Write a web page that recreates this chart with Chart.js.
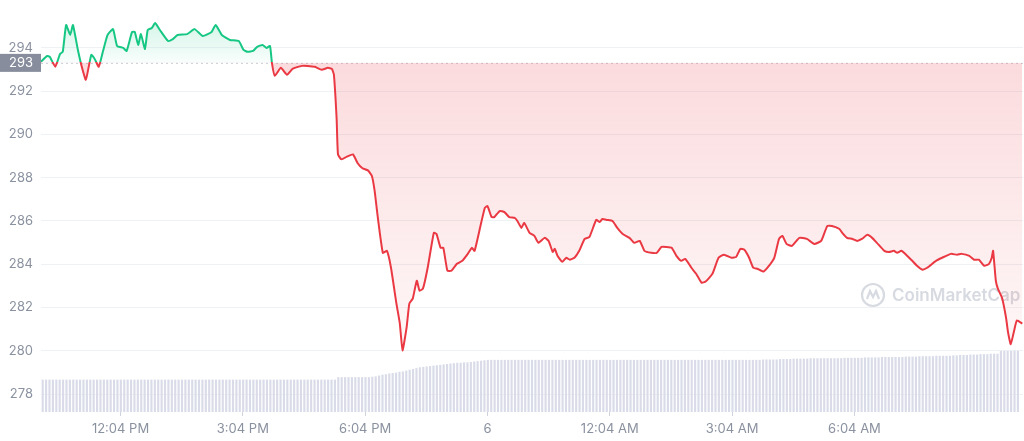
<!DOCTYPE html>
<html>
<head>
<meta charset="utf-8">
<script src="https://cdn.jsdelivr.net/npm/chart.js@4.4.1/dist/chart.umd.min.js"></script>
<style>
  html, body { margin: 0; background: #fff; }
  #wrap { width: 1024px; height: 441px; }
</style>
</head>
<body>
<div id="wrap"><canvas id="graficoPreco"></canvas></div>
<script>
// Preço (minutos desde o início da janela de 24h)
const times = [
  0, 9, 13, 21, 28, 32, 37, 43, 47, 54,
  60, 66, 74, 79, 85, 91, 98, 106, 112, 121,
  126, 134, 138, 143, 147, 153, 157, 163, 168, 175,
  187, 194, 201, 215, 226, 238, 251, 257, 266, 278,
  291, 298, 304, 312, 318, 326, 332, 337, 340, 344,
  353, 362, 370, 384, 392, 403, 413, 422, 428, 431,
  435, 437, 442, 451, 459, 466, 473, 481, 487, 491,
  495, 503, 509, 515, 523, 528, 532, 538, 542, 547,
  553, 557, 562, 569, 578, 582, 588, 592, 598, 604,
  612, 620, 628, 634, 638, 645, 653, 657, 663, 667,
  675, 682, 689, 697, 701, 707, 711, 719, 726, 732,
  741, 747, 753, 756, 760, 767, 773, 778, 785, 792,
  800, 807, 817, 822, 826, 833, 841, 848, 856, 866,
  873, 881, 888, 898, 906, 913, 920, 928, 935, 942,
  948, 957, 964, 972, 978, 988, 997, 1005, 1016, 1023,
  1029, 1035, 1042, 1048, 1054, 1063, 1069, 1079, 1086, 1091,
  1097, 1105, 1116, 1127, 1138, 1148, 1157, 1164, 1175, 1179,
  1186, 1194, 1201, 1208, 1216, 1223, 1230, 1241, 1248, 1255,
  1260, 1266, 1273, 1282, 1289, 1297, 1304, 1317, 1326, 1339,
  1348, 1355, 1366, 1373, 1380, 1388, 1395, 1399, 1401, 1405,
  1408, 1414, 1420, 1423, 1427, 1432, 1436, 1444
];
const prices = [
  293.36, 293.63, 293.59, 293.13, 293.72, 293.82, 295.06, 294.60, 295.06, 293.95,
  293.13, 292.53, 293.68, 293.49, 293.13, 293.82, 294.60, 294.87, 294.09, 294.00,
  293.86, 294.74, 294.74, 294.14, 294.64, 293.95, 294.83, 294.92, 295.15, 294.83,
  294.32, 294.41, 294.60, 294.64, 294.87, 294.55, 294.74, 295.06, 294.60, 294.37,
  294.32, 293.91, 293.82, 293.86, 294.05, 294.14, 294.00, 294.09, 293.26, 292.71,
  293.08, 292.76, 293.03, 293.17, 293.17, 293.13, 292.99, 293.08, 293.03, 292.76,
  290.74, 289.08, 288.85, 288.99, 289.08, 288.67, 288.44, 288.34, 288.07, 287.38,
  286.32, 284.53, 284.62, 283.84, 282.18, 281.26, 280.02, 281.08, 282.18, 282.41,
  283.24, 282.78, 282.87, 283.84, 285.45, 285.40, 284.76, 284.76, 283.70, 283.70,
  284.02, 284.16, 284.48, 284.76, 284.62, 285.54, 286.60, 286.69, 286.18, 286.18,
  286.46, 286.41, 286.18, 286.14, 286.00, 285.68, 285.91, 285.45, 285.31, 284.99,
  285.22, 285.08, 284.57, 284.71, 284.39, 284.11, 284.30, 284.21, 284.30, 284.62,
  285.17, 285.26, 286.05, 285.95, 286.09, 286.05, 286.00, 285.68, 285.40, 285.22,
  284.99, 285.08, 284.62, 284.53, 284.53, 284.80, 284.80, 284.76, 284.39, 284.16,
  284.25, 283.84, 283.56, 283.15, 283.20, 283.56, 284.30, 284.44, 284.30, 284.34,
  284.71, 284.67, 284.30, 283.84, 283.79, 283.66, 283.84, 284.30, 285.17, 285.31,
  284.94, 284.85, 285.22, 285.17, 284.94, 285.08, 285.77, 285.77, 285.63, 285.45,
  285.22, 285.17, 285.08, 285.17, 285.36, 285.22, 284.99, 284.62, 284.57, 284.62,
  284.53, 284.62, 284.44, 284.16, 283.93, 283.75, 283.84, 284.16, 284.30, 284.48,
  284.44, 284.48, 284.39, 284.21, 284.21, 283.93, 284.02, 284.30, 284.62, 283.24,
  282.87, 282.46, 281.54, 280.85, 280.30, 280.94, 281.40, 281.26
];
const baseline = 293.31;

// Volume (barras de 5 min)
const volumes = [
  7.8, 7.8, 7.8, 7.8, 7.8, 7.8, 7.8, 7.8, 7.8, 7.8, 7.8, 7.8,
  7.8, 7.8, 7.8, 7.8, 7.8, 7.8, 7.8, 7.8, 7.8, 7.8, 7.8, 7.8,
  7.8, 7.8, 7.8, 7.8, 7.8, 7.8, 7.8, 7.8, 7.8, 7.8, 7.8, 7.8,
  7.8, 7.8, 7.8, 7.8, 7.8, 7.8, 7.8, 7.8, 7.8, 7.8, 7.8, 7.8,
  7.8, 7.8, 7.8, 7.8, 7.8, 7.8, 7.8, 7.8, 7.8, 7.8, 7.8, 7.8,
  7.8, 7.8, 7.8, 7.8, 7.8, 7.8, 7.8, 7.8, 7.8, 7.8, 7.8, 7.8,
  7.8, 7.8, 7.8, 7.8, 7.8, 7.8, 7.8, 7.8, 7.8, 7.8, 7.8, 7.8,
  7.8, 7.8, 7.8, 8.4, 8.4, 8.4, 8.4, 8.4, 8.4, 8.4, 8.4, 8.4,
  8.4, 8.5, 8.6, 8.8, 9.0, 9.1, 9.3, 9.4, 9.5, 9.7, 9.8, 10.0,
  10.2, 10.4, 10.6, 10.8, 10.9, 11.0, 11.1, 11.2, 11.3, 11.4, 11.5, 11.6,
  11.7, 11.8, 11.9, 11.9, 12.0, 12.0, 12.1, 12.2, 12.3, 12.4, 12.5, 12.6,
  12.6, 12.6, 12.6, 12.6, 12.6, 12.6, 12.6, 12.6, 12.6, 12.6, 12.6, 12.6,
  12.6, 12.6, 12.6, 12.6, 12.6, 12.6, 12.6, 12.6, 12.6, 12.6, 12.6, 12.6,
  12.6, 12.6, 12.6, 12.6, 12.6, 12.6, 12.6, 12.6, 12.6, 12.6, 12.6, 12.6,
  12.6, 12.6, 12.6, 12.6, 12.6, 12.6, 12.6, 12.6, 12.6, 12.6, 12.6, 12.6,
  12.6, 12.6, 12.6, 12.6, 12.6, 12.6, 12.6, 12.6, 12.6, 12.6, 12.6, 12.6,
  12.6, 12.6, 12.6, 12.6, 12.6, 12.6, 12.6, 12.6, 12.6, 12.6, 12.6, 12.6,
  12.6, 12.6, 12.6, 12.6, 12.6, 12.6, 12.6, 12.6, 12.7, 12.7, 12.7, 12.7,
  12.7, 12.8, 12.8, 12.8, 12.8, 12.9, 12.9, 12.9, 12.9, 12.9, 13.0, 13.0,
  13.0, 13.0, 13.0, 13.0, 13.0, 13.0, 13.0, 13.0, 13.1, 13.1, 13.1, 13.1,
  13.1, 13.1, 13.2, 13.2, 13.2, 13.2, 13.2, 13.3, 13.3, 13.3, 13.3, 13.3,
  13.3, 13.3, 13.4, 13.4, 13.4, 13.4, 13.5, 13.5, 13.5, 13.5, 13.5, 13.6,
  13.6, 13.6, 13.6, 13.6, 13.7, 13.7, 13.8, 13.8, 13.8, 13.9, 13.9, 13.9,
  14.0, 14.0, 14.0, 14.1, 14.1, 14.1, 14.8, 14.8, 14.8, 14.8, 14.8, 14.8
];

// Eixos
const yTicks = [278, 280, 282, 284, 286, 288, 290, 292, 294];
const xTickMinutes = [117, 297, 477, 657, 837, 1017, 1197];
const xTickLabels = ['12:04 PM', '3:04 PM', '6:04 PM', '6', '12:04 AM', '3:04 AM', '6:04 AM'];

const VERDE = '#16c784';
const VERMELHO = '#ea3943';
const CINZA = '#8a919f';
Chart.defaults.font.family = 'Inter, "Noto Sans", sans-serif';

const precoPts = times.map((t, i) => ({ x: t, y: prices[i] }));
const volumePts = volumes.map((v, i) => ({ x: i * 5 + 2.5, y: v }));

// sem margens extras em volta da área do gráfico
const semPadding = s => { s.paddingTop = 0; s.paddingBottom = 0; s.paddingLeft = 0; s.paddingRight = 0; };

// linha tracejada da abertura + etiqueta "293" + marca d'água
const extras = {
  id: 'extras',
  beforeDatasetsDraw(chart) {
    const { ctx, chartArea, scales } = chart;
    const yb = scales.y.getPixelForValue(baseline);
    ctx.save();
    ctx.strokeStyle = '#c9cdd6';
    ctx.lineWidth = 1;
    ctx.setLineDash([2, 3]);
    ctx.beginPath();
    ctx.moveTo(chartArea.left, yb + 0.5);
    ctx.lineTo(chartArea.right, yb + 0.5);
    ctx.stroke();
    ctx.setLineDash([]);

    // marca d'água
    const wx = chartArea.right - 150, wy = 295;
    ctx.strokeStyle = '#d7dae1';
    ctx.lineWidth = 2.2;
    ctx.beginPath();
    ctx.arc(wx, wy, 11, 0, Math.PI * 2);
    ctx.stroke();
    ctx.beginPath();
    ctx.moveTo(wx - 6, wy + 4);
    ctx.lineTo(wx - 3, wy - 4);
    ctx.lineTo(wx, wy + 2);
    ctx.lineTo(wx + 3, wy - 4);
    ctx.lineTo(wx + 6, wy + 4);
    ctx.stroke();
    ctx.fillStyle = '#d7dae1';
    ctx.font = '600 17px Inter';
    ctx.textBaseline = 'middle';
    ctx.fillText('CoinMarketCap', wx + 19, wy + 1);
    ctx.restore();
  },
  afterDraw(chart) {
    const { ctx, scales } = chart;
    const yb = scales.y.getPixelForValue(baseline);
    ctx.save();
    ctx.fillStyle = '#878d9c';
    ctx.fillRect(0, yb - 9, 41, 18);
    ctx.fillStyle = '#ffffff';
    ctx.font = '13px Inter';
    ctx.textAlign = 'right';
    ctx.textBaseline = 'middle';
    ctx.fillText(String(Math.floor(baseline)), 33, yb);
    ctx.restore();
  }
};

const ctxPreco = document.getElementById('graficoPreco').getContext('2d');
const grafico = new Chart(ctxPreco, {
  data: {
    datasets: [
      {
        type: 'line',
        data: precoPts,
        yAxisID: 'y',
        borderColor: VERDE,
        borderWidth: 2,
        pointRadius: 0,
        tension: 0.15,
        fill: false,
        order: 0
      },
      {
        type: 'bar',
        data: volumePts,
        yAxisID: 'yv',
        backgroundColor: '#d9dce8',
        barThickness: 1.5,
        order: 1
      }
    ]
  },
  options: {
    responsive: true,
    maintainAspectRatio: false,
    animation: false,
    layout: { padding: 0 },
    plugins: { legend: { display: false }, tooltip: { enabled: false } },
    scales: {
      x: {
        type: 'linear',
        min: 0,
        max: 1445,
        offset: false,
        border: { display: false },
        grid: { offset: false, drawOnChartArea: false, drawTicks: true, tickLength: 4, color: '#cfd3da' },
        afterBuildTicks: s => { s.ticks = xTickMinutes.map(v => ({ value: v })); },
        afterFit: s => { s.height = 441 - 412; semPadding(s); },
        ticks: {
          autoSkip: false,
          maxRotation: 0,
          padding: 5,
          color: CINZA,
          font: { size: 13 },
          callback: v => xTickLabels[xTickMinutes.indexOf(v)]
        }
      },
      y: {
        position: 'left',
        min: 277.17,
        max: 296.17,
        border: { display: false },
        grid: { color: '#eff2f5', drawTicks: false },
        afterBuildTicks: s => { s.ticks = yTicks.map(v => ({ value: v })); },
        afterFit: s => { s.width = 41; semPadding(s); },
        ticks: { padding: 8, color: CINZA, font: { size: 13 } }
      },
      yv: { display: false, min: 0, max: 100 }
    }
  },
  plugins: [extras]
});

// cores em degradê dependem da posição da linha de abertura
function aplicarCores(chart) {
  const { ctx, chartArea, scales } = chart;
  const yb = scales.y.getPixelForValue(baseline);
  const f = (yb - chartArea.top) / (chartArea.bottom - chartArea.top);
  const linha = ctx.createLinearGradient(0, chartArea.top, 0, chartArea.bottom);
  linha.addColorStop(0, VERDE);
  linha.addColorStop(f, VERDE);
  linha.addColorStop(f, VERMELHO);
  linha.addColorStop(1, VERMELHO);

  const yAlto = scales.y.getPixelForValue(Math.max(...prices));
  const yBaixo = scales.y.getPixelForValue(Math.min(...prices));
  const acima = ctx.createLinearGradient(0, yAlto, 0, yb);
  acima.addColorStop(0, 'rgba(22,199,132,0.18)');
  acima.addColorStop(1, 'rgba(22,199,132,0.03)');
  const abaixo = ctx.createLinearGradient(0, yb, 0, yBaixo);
  abaixo.addColorStop(0, 'rgba(234,57,67,0.18)');
  abaixo.addColorStop(1, 'rgba(234,57,67,0.04)');

  const ds = chart.data.datasets[0];
  ds.borderColor = linha;
  ds.fill = { target: { value: baseline }, above: acima, below: abaixo };
  chart.update();
}
aplicarCores(grafico);
</script>
</body>
</html>
